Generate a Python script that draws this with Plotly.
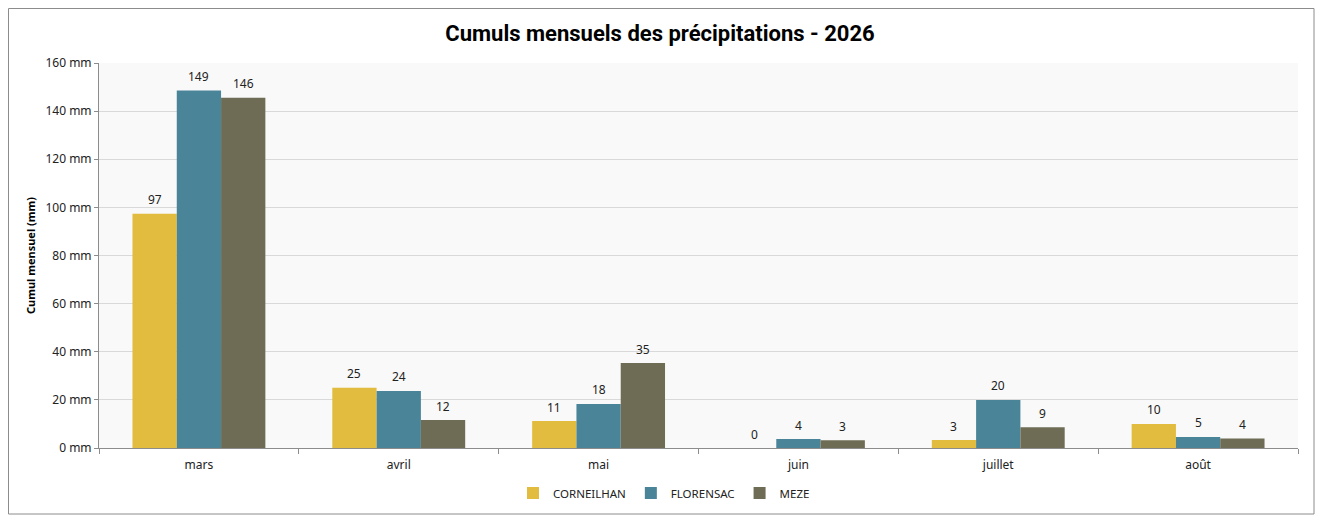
import plotly.graph_objects as go

mois = ["mars", "avril", "mai", "juin", "juillet", "août"]
corneilhan = [97.3, 25.0, 11.2, 0.0, 3.3, 10.0]
florensac = [148.6, 23.7, 18.3, 3.7, 20.0, 4.6]
meze = [145.6, 11.6, 35.3, 3.2, 8.6, 4.0]
y_ticks = [0, 20, 40, 60, 80, 100, 120, 140, 160]
y_tick_labels = [f"{v} mm" for v in y_ticks]

series = [
    ("CORNEILHAN", corneilhan, "#E2BC3F"),
    ("FLORENSAC", florensac, "#4A8499"),
    ("MEZE", meze, "#6E6C55"),
]

font_family = "Noto Sans, Liberation Sans, Arial, sans-serif"

# the page adds an 8px body margin; lay out in figure coordinates accordingly
OFF = 8
W, H = 1324 - OFF, 522 - OFF
L = 99 - OFF
T = 63 - OFF
R = W - (1298 - OFF)
B = H - (448 - OFF)
pw = W - L - R
ph = H - T - B
BARGAP = 0.335

fig = go.Figure()
for name, vals, color in series:
    fig.add_trace(go.Bar(
        name=name, x=mois, y=vals,
        marker=dict(color=color, line=dict(width=0)),
        hovertemplate="%{x}: %{y}<extra>" + name + "</extra>",
    ))

# value labels above each bar, placed on the data scale
cat_px = pw / len(mois)
bar_px = cat_px * (1 - BARGAP) / len(series)
for i, (name, vals, color) in enumerate(series):
    for m, v in zip(mois, vals):
        fig.add_annotation(
            x=m, y=v, xref="x", yref="y", text=f"{v:.0f}", showarrow=False,
            xshift=(i - (len(series) - 1) / 2) * bar_px, yshift=14,
            yanchor="middle", xanchor="center",
            font=dict(size=12, color="#222222", family=font_family),
        )

fig.update_layout(
    width=W, height=H,
    margin=dict(l=L, r=R, t=T, b=B),
    barmode="group", bargap=BARGAP, bargroupgap=0,
    paper_bgcolor="white", plot_bgcolor="#F9F9F9",
    font=dict(family=font_family, size=12, color="#222222"),
    title=dict(text="<b>Cumuls mensuels des précipitations - 2026</b>",
               x=(660 - OFF) / W, xanchor="center", y=1 - (33 - OFF) / H, yanchor="middle",
               font=dict(size=22, color="#000000", family="Roboto, Noto Sans, sans-serif")),
    legend=dict(orientation="h", x=(664 - 99) / pw, xanchor="center",
                y=-(493 - 448) / ph, yanchor="middle",
                font=dict(size=11.5), itemwidth=30, traceorder="normal",
                bgcolor="rgba(0,0,0,0)"),
    showlegend=True,
)
fig.update_xaxes(
    type="category", tickson="boundaries", ticks="outside", ticklen=5,
    tickcolor="#8C8C8C", showline=True, linecolor="#8C8C8C", linewidth=1,
    showgrid=False, tickfont=dict(size=12), ticklabelstandoff=6,
)
fig.update_yaxes(
    range=[0, 160], tickvals=y_ticks, ticktext=y_tick_labels,
    ticks="outside", ticklen=4, tickcolor="#8C8C8C",
    showline=True, linecolor="#8C8C8C", linewidth=1,
    showgrid=True, gridcolor="#D9D9D9", gridwidth=1, zeroline=False,
    tickfont=dict(size=12),
    title=dict(text="<b>Cumul mensuel (mm)</b>", font=dict(size=11, color="#000000"), standoff=7),
)
# outer chart border
fig.add_shape(type="rect", xref="paper", yref="paper",
              x0=(0.5 - L) / pw, x1=(1314 - OFF - L) / pw,
              y0=-(514 - 448) / ph, y1=(448 - OFF - 0.5) / ph,
              line=dict(color="#8C8C8C", width=1), fillcolor="rgba(0,0,0,0)", layer="below")

fig.write_html("out.html")
